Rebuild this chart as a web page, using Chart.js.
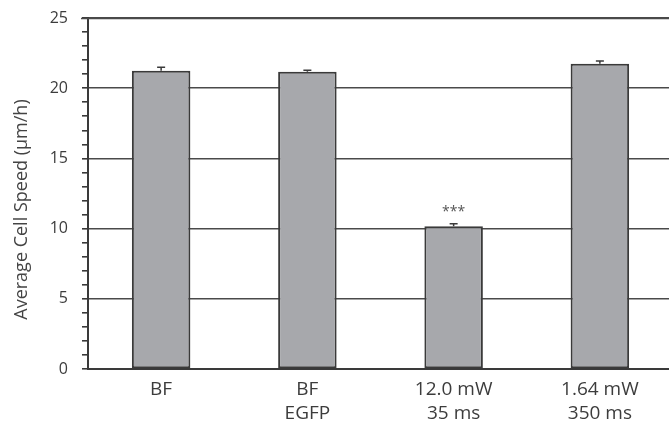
<!DOCTYPE html>
<html>
<head>
<meta charset="utf-8">
<script src="https://cdn.jsdelivr.net/npm/chart.js@4.4.1/dist/chart.umd.min.js"></script>
<style>
html, body { margin: 0; padding: 0; overflow: hidden; background: #fff; }
#wrap { width: 680px; height: 423px; }
</style>
</head>
<body>
<div id="wrap"><canvas id="c" width="680" height="423"></canvas></div>
<script>
const categories = [["BF"], ["BF", "EGFP"], ["12.0 mW", "35 ms"], ["1.64 mW", "350 ms"]];
const speeds = [21.25, 21.18, 10.17, 21.74];
const errors = [0.25, 0.1, 0.18, 0.19];
const annotations = ["", "", "***", ""];
const yTicks = [0, 5, 10, 15, 20, 25];
const yTitle = 'Average Cell Speed (µm/h)';

const textColor = '#3c3c3c';
const fontFamily = '"Open Sans", sans-serif';

const errorBarPlugin = {
  id: 'errorBars',
  afterDatasetsDraw(chart) {
    const ctx = chart.ctx;
    const meta = chart.getDatasetMeta(0);
    const y = chart.scales.y;
    ctx.save();
    meta.data.forEach((bar, i) => {
      const x = bar.x;
      const top = y.getPixelForValue(speeds[i] + errors[i]);
      const base = y.getPixelForValue(speeds[i]);
      ctx.strokeStyle = '#3a3a3a';
      ctx.lineWidth = 1.5;
      ctx.beginPath();
      ctx.moveTo(x, base);
      ctx.lineTo(x, top);
      ctx.moveTo(x - 4, top);
      ctx.lineTo(x + 4, top);
      ctx.stroke();
      if (annotations[i]) {
        ctx.fillStyle = '#555';
        ctx.font = '14px ' + fontFamily;
        ctx.textAlign = 'center';
        ctx.textBaseline = 'middle';
        ctx.fillText(annotations[i], x, top - 12);
      }
    });
    ctx.restore();
  }
};

const extrasPlugin = {
  id: 'extras',
  beforeDatasetsDraw(chart) {
    // top gridline at the axis maximum
    const ctx = chart.ctx;
    const y = chart.scales.y;
    const py = Math.round(y.getPixelForValue(yTicks[yTicks.length - 1])) + 0.5;
    ctx.save();
    ctx.strokeStyle = '#4a4a4a';
    ctx.lineWidth = 1.6;
    ctx.beginPath();
    ctx.moveTo(y.right - 7, py);
    ctx.lineTo(chart.chartArea.right, py);
    ctx.stroke();
    ctx.restore();
  },
  afterDraw(chart) {
    const ctx = chart.ctx;
    const y = chart.scales.y;
    ctx.save();
    ctx.translate(22, (y.top + y.bottom) / 2 + 16);
    ctx.rotate(-Math.PI / 2);
    ctx.fillStyle = '#444';
    ctx.font = '18px ' + fontFamily;
    ctx.textAlign = 'center';
    ctx.textBaseline = 'middle';
    ctx.fillText(yTitle, 0, 0);
    ctx.restore();
  }
};

new Chart(document.getElementById('c'), {
  type: 'bar',
  data: {
    labels: categories,
    datasets: [{
      data: speeds,
      backgroundColor: '#a7a8ac',
      borderColor: '#3a3a3a',
      borderWidth: 2,
      borderSkipped: false,
      barPercentage: 0.4,
      categoryPercentage: 1.0
    }]
  },
  options: {
    responsive: false,
    animation: false,
    devicePixelRatio: 1,
    layout: { padding: { top: 18, right: 7, left: 0, bottom: 0 } },
    plugins: { legend: { display: false }, tooltip: { enabled: false } },
    scales: {
      x: {
        offset: true,
        grid: { display: false, drawTicks: false },
        border: { display: true, color: '#3a3a3a', width: 2 },
        ticks: {
          color: textColor,
          font: { family: fontFamily, size: 19, lineHeight: 1.3 },
          padding: 8,
          maxRotation: 0,
          autoSkip: false
        },
        afterFit(s) { s.height = 54; }
      },
      y: {
        min: 0,
        max: 25,
        ticks: {
          stepSize: 1,
          autoSkip: false,
          color: textColor,
          font: { family: fontFamily, size: 16 },
          padding: 14,
          callback: (v) => yTicks.includes(v) ? String(v) : ''
        },
        grid: {
          color: (c) => {
            const v = c.tick ? Math.round(c.tick.value) : c.index;
            return yTicks.includes(v) ? '#4a4a4a' : 'rgba(0,0,0,0)';
          },
          lineWidth: 1.6,
          tickColor: '#3a3a3a',
          tickLength: 6,
          drawTicks: true
        },
        border: { display: true, color: '#3a3a3a', width: 2 },
        title: { display: false },
        afterFit(s) { s.width = 88; s.paddingTop = 0; s.paddingBottom = 0; }
      }
    }
  },
  plugins: [errorBarPlugin, extrasPlugin]
});
</script>
</body>
</html>
